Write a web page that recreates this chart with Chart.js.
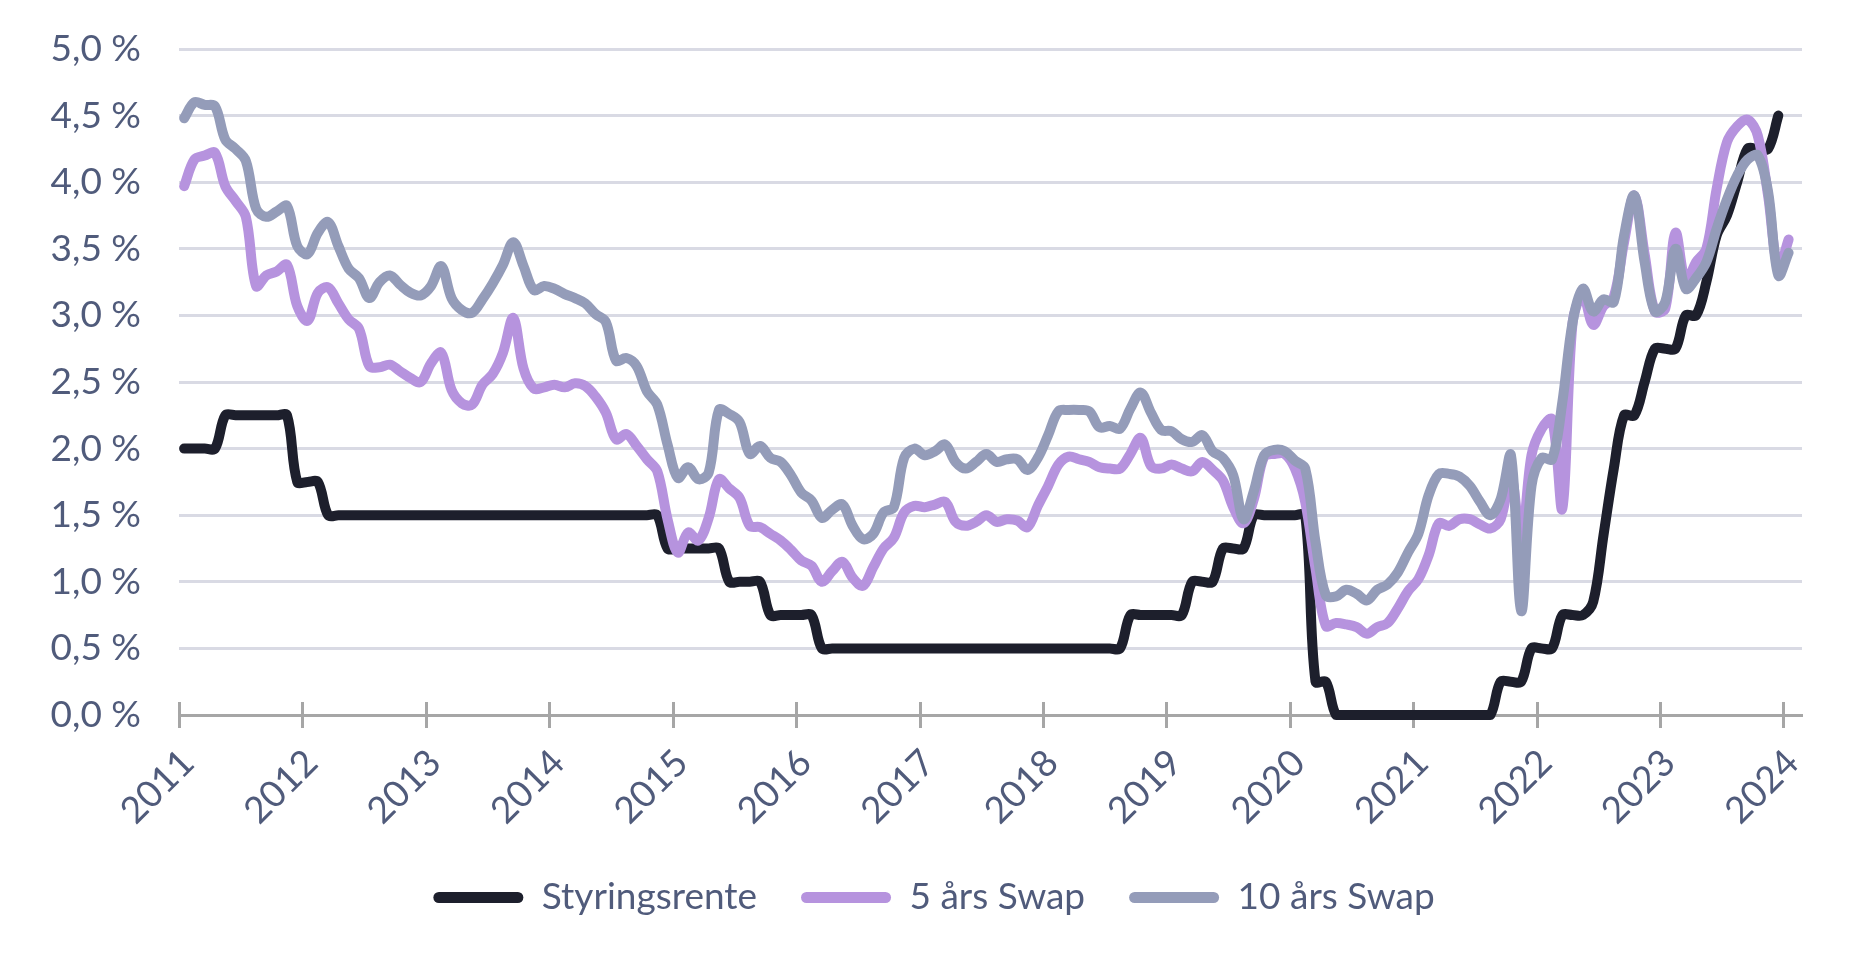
<!DOCTYPE html>
<html>
<head>
<meta charset="utf-8">
<script src="https://cdn.jsdelivr.net/npm/chart.js@4.4.1/dist/chart.umd.min.js"></script>
<style>
  html, body { margin: 0; padding: 0; background: #ffffff; }
  #wrap { width: 1868px; height: 964px; }
</style>
</head>
<body>
<div id="wrap"><canvas id="c" width="1868" height="964"></canvas></div>
<script>
// ---- data (monthly, Jan 2011 onwards, plotted at mid-month) ----
const startYear = 2011;
const yearTicks = [2011, 2012, 2013, 2014, 2015, 2016, 2017, 2018, 2019, 2020, 2021, 2022, 2023, 2024];
const seriesNames = ['Styringsrente', '5 års Swap', '10 års Swap'];

const styringsrente = [
  2.0, 2.0, 2.0, 2.0, 2.25, 2.25, 2.25, 2.25, 2.25, 2.25, 2.25, 1.75,
  1.75, 1.75, 1.5, 1.5, 1.5, 1.5, 1.5, 1.5, 1.5, 1.5, 1.5, 1.5,
  1.5, 1.5, 1.5, 1.5, 1.5, 1.5, 1.5, 1.5, 1.5, 1.5, 1.5, 1.5,
  1.5, 1.5, 1.5, 1.5, 1.5, 1.5, 1.5, 1.5, 1.5, 1.5, 1.5, 1.25,
  1.25, 1.25, 1.25, 1.25, 1.25, 1.0, 1.0, 1.0, 1.0, 0.75, 0.75, 0.75,
  0.75, 0.75, 0.5, 0.5, 0.5, 0.5, 0.5, 0.5, 0.5, 0.5, 0.5, 0.5,
  0.5, 0.5, 0.5, 0.5, 0.5, 0.5, 0.5, 0.5, 0.5, 0.5, 0.5, 0.5,
  0.5, 0.5, 0.5, 0.5, 0.5, 0.5, 0.5, 0.5, 0.75, 0.75, 0.75, 0.75,
  0.75, 0.75, 1.0, 1.0, 1.0, 1.25, 1.25, 1.25, 1.5, 1.5, 1.5, 1.5,
  1.5, 1.5, 0.25, 0.25, 0.0, 0.0, 0.0, 0.0, 0.0, 0.0, 0.0, 0.0,
  0.0, 0.0, 0.0, 0.0, 0.0, 0.0, 0.0, 0.0, 0.25, 0.25, 0.25, 0.5,
  0.5, 0.5, 0.75, 0.75, 0.75, 0.85, 1.35, 1.85, 2.25, 2.25, 2.5, 2.75,
  2.75, 2.75, 3.0, 3.0, 3.25, 3.6, 3.75, 4.0, 4.25, 4.25, 4.25, 4.5
];

const swap5 = [
  3.97, 4.17, 4.2, 4.22, 3.97, 3.86, 3.74, 3.22, 3.3, 3.33, 3.38, 3.07,
  2.96, 3.17, 3.21, 3.09, 2.97, 2.9, 2.62, 2.61, 2.63, 2.58, 2.53, 2.5,
  2.64, 2.72, 2.44, 2.34, 2.33, 2.48, 2.56, 2.72, 2.98, 2.6, 2.45, 2.46,
  2.48, 2.46, 2.49, 2.47, 2.39, 2.27, 2.07, 2.11, 2.02, 1.92, 1.83, 1.47,
  1.22, 1.37, 1.31, 1.48, 1.77, 1.7, 1.63, 1.42, 1.41, 1.36, 1.31, 1.24,
  1.16, 1.12, 1.0, 1.08, 1.15, 1.03, 0.97, 1.11, 1.25, 1.33, 1.52, 1.57,
  1.56, 1.58, 1.6, 1.45, 1.42, 1.45, 1.5, 1.45, 1.47, 1.46, 1.41, 1.57,
  1.72, 1.88, 1.94, 1.92, 1.9, 1.86, 1.85, 1.85, 1.96, 2.08, 1.87, 1.85,
  1.88, 1.85, 1.83, 1.9, 1.84, 1.76, 1.56, 1.44, 1.62, 1.94, 1.96, 1.96,
  1.85, 1.6, 1.1, 0.67, 0.69, 0.68, 0.66, 0.61, 0.66, 0.69, 0.8, 0.93,
  1.02, 1.2, 1.44, 1.42, 1.47, 1.47, 1.43, 1.4, 1.47, 1.8, 1.3, 1.95,
  2.15, 2.22, 1.55, 2.95, 3.15, 2.93, 3.07, 3.14, 3.55, 3.9, 3.46, 3.03,
  3.05, 3.62, 3.25, 3.4, 3.5, 3.95, 4.3, 4.42, 4.47, 4.35, 3.9, 3.35,
  3.57
];

const swap10 = [
  4.48, 4.6, 4.58, 4.57, 4.32, 4.25, 4.16, 3.8, 3.74, 3.78, 3.82, 3.52,
  3.46, 3.62, 3.7, 3.52, 3.35, 3.28, 3.13, 3.25, 3.3, 3.23, 3.17, 3.15,
  3.22, 3.37, 3.13, 3.04, 3.02, 3.12, 3.24, 3.38, 3.55, 3.37, 3.19, 3.22,
  3.2, 3.16, 3.13, 3.09, 3.01, 2.95, 2.66, 2.68, 2.62, 2.43, 2.33, 2.03,
  1.78, 1.86, 1.77, 1.82, 2.29, 2.26, 2.2, 1.96, 2.02, 1.93, 1.9, 1.8,
  1.67, 1.61, 1.48, 1.54, 1.58, 1.42, 1.32, 1.36, 1.52, 1.56, 1.93, 2.0,
  1.95, 1.98, 2.03, 1.9, 1.85, 1.9, 1.96, 1.9, 1.92, 1.92, 1.84, 1.93,
  2.1, 2.28, 2.29, 2.29, 2.28, 2.16, 2.17, 2.15, 2.3, 2.42, 2.27, 2.14,
  2.13, 2.07, 2.05, 2.1, 1.98, 1.93, 1.8, 1.47, 1.68, 1.95, 1.99, 1.98,
  1.91, 1.85, 1.3, 0.9, 0.89, 0.94, 0.91, 0.86, 0.94, 0.98, 1.07, 1.22,
  1.36, 1.65, 1.81, 1.81, 1.79, 1.72, 1.6, 1.5, 1.62, 1.95, 0.78, 1.72,
  1.93, 1.92, 2.35, 2.95, 3.2, 3.03, 3.12, 3.1, 3.6, 3.9, 3.4, 3.03,
  3.1, 3.5, 3.2, 3.28, 3.4, 3.65, 3.87, 4.05, 4.17, 4.2, 3.93, 3.3,
  3.47
];

// ---- helpers ----
const monthPos = i => startYear + (i + 0.5) / 12;
const toPoints = arr => arr.map((v, i) => ({ x: monthPos(i), y: v }));

const FONT = 'Lato, "Open Sans", sans-serif';
const TEXT = '#505b7b';

const tickMarks = {
  id: 'tickMarks',
  beforeDatasetsDraw(chart) {
    const xs = chart.scales.x;
    const ctx = chart.ctx;
    const y0 = chart.chartArea.bottom;
    ctx.save();
    ctx.strokeStyle = '#a6a6a6';
    ctx.lineWidth = 3;
    xs.ticks.forEach(t => {
      const px = Math.round(xs.getPixelForValue(t.value)) + 0.5;
      ctx.beginPath();
      ctx.moveTo(px, y0 - 13);
      ctx.lineTo(px, y0 + 13);
      ctx.stroke();
    });
    ctx.restore();
  }
};

const lineDs = (label, data, color, order) => ({
  label, data: toPoints(data), borderColor: color, backgroundColor: color,
  borderWidth: 10, pointRadius: 0, pointHoverRadius: 0, tension: 0.35,
  borderCapStyle: 'round', borderJoinStyle: 'round', fill: false, order, clip: false
});

new Chart(document.getElementById('c'), {
  type: 'line',
  data: {
    datasets: [
      lineDs(seriesNames[0], styringsrente, '#1d1f2c', 3),
      lineDs(seriesNames[1], swap5, '#b693de', 2),
      lineDs(seriesNames[2], swap10, '#949cb9', 1)
    ]
  },
  plugins: [tickMarks],
  options: {
    responsive: false,
    animation: false,
    events: [],
    layout: { padding: { left: 0, right: 0, top: 49, bottom: 38 } },
    plugins: {
      tooltip: { enabled: false },
      legend: {
        position: 'bottom',
        labels: {
          sort: (a, b) => a.datasetIndex - b.datasetIndex,
          color: TEXT,
          font: { family: FONT, size: 37 },
          boxWidth: 90,
          boxHeight: 11,
          padding: 44,
          useBorderRadius: true,
          borderRadius: 5.5,
          generateLabels(chart) {
            return chart.data.datasets.map((ds, i) => ({
              text: ds.label, fillStyle: ds.borderColor, strokeStyle: ds.borderColor,
              lineWidth: 0, borderRadius: 5.5, datasetIndex: i, hidden: false, fontColor: TEXT
            }));
          }
        }
      }
    },
    scales: {
      x: {
        type: 'linear',
        min: 2011,
        max: 2024.15,
        afterBuildTicks: s => { s.ticks = yearTicks.map(v => ({ value: v })); },
        afterFit: s => { s.height = 120; },
        ticks: {
          autoSkip: false, maxRotation: 45, minRotation: 45,
          color: TEXT, font: { family: FONT, size: 37 }, padding: 26, labelOffset: 9,
          callback: v => String(v)
        },
        grid: { display: false, drawTicks: false },
        border: { display: true, color: '#a6a6a6', width: 3 }
      },
      y: {
        min: 0, max: 5,
        afterFit: s => { s.width = 179; },
        ticks: {
          stepSize: 0.5, color: TEXT, font: { family: FONT, size: 37, lineHeight: 0.5 }, padding: 38,
          callback: v => v.toFixed(1).replace('.', ',') + ' %'
        },
        grid: { color: '#d9dae4', lineWidth: 3, drawTicks: false },
        border: { display: false }
      },
      yR: {
        position: 'right', min: 0, max: 1,
        afterFit: s => { s.width = 66; },
        ticks: { display: false },
        grid: { display: false, drawTicks: false },
        border: { display: false }
      }
    }
  }
});
</script>
</body>
</html>
